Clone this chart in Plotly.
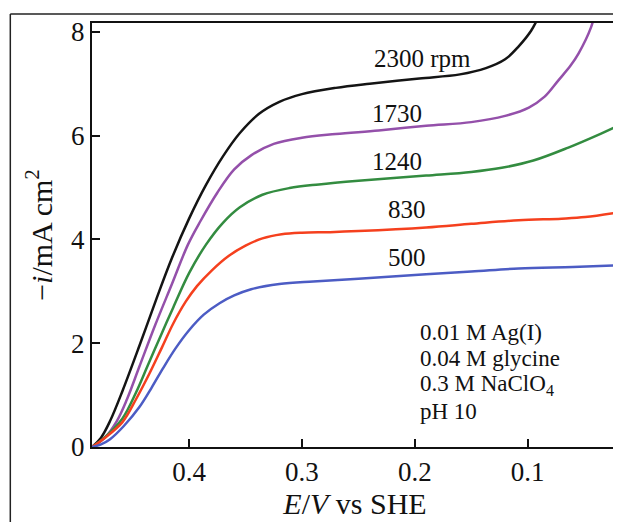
import plotly.graph_objects as go

# Data (E in V vs SHE, -i in mA cm^-2)
E_2300 = [0.486, 0.478, 0.470, 0.459, 0.444, 0.429, 0.415, 0.400, 0.385, 0.370, 0.355, 0.338, 0.320, 0.300, 0.270, 0.240, 0.196, 0.160, 0.137, 0.120, 0.108, 0.097, 0.088]
i_2300 = [0.0, 0.18, 0.50, 1.08, 1.95, 2.85, 3.65, 4.40, 5.05, 5.60, 6.05, 6.42, 6.65, 6.80, 6.92, 7.00, 7.10, 7.18, 7.30, 7.47, 7.72, 8.02, 8.40]

E_1730 = [0.486, 0.475, 0.464, 0.455, 0.444, 0.430, 0.415, 0.401, 0.390, 0.375, 0.360, 0.345, 0.325, 0.300, 0.270, 0.232, 0.190, 0.150, 0.120, 0.099, 0.085, 0.073, 0.062, 0.055, 0.044, 0.040]
i_1730 = [0.0, 0.17, 0.50, 0.92, 1.55, 2.35, 3.15, 3.90, 4.35, 4.90, 5.35, 5.62, 5.84, 5.96, 6.03, 6.10, 6.19, 6.26, 6.38, 6.54, 6.75, 7.06, 7.35, 7.58, 8.08, 8.40]

E_1240 = [0.486, 0.475, 0.459, 0.447, 0.437, 0.425, 0.414, 0.400, 0.385, 0.370, 0.355, 0.335, 0.311, 0.285, 0.250, 0.190, 0.150, 0.123, 0.095, 0.064, 0.035, 0.020]
i_1240 = [0.0, 0.18, 0.55, 1.05, 1.55, 2.15, 2.69, 3.35, 3.90, 4.32, 4.62, 4.86, 4.99, 5.06, 5.13, 5.23, 5.30, 5.38, 5.52, 5.77, 6.04, 6.19]

E_830 = [0.486, 0.475, 0.459, 0.447, 0.435, 0.424, 0.414, 0.403, 0.393, 0.380, 0.365, 0.350, 0.335, 0.318, 0.300, 0.275, 0.250, 0.190, 0.150, 0.108, 0.070, 0.049, 0.020]
i_830 = [0.0, 0.17, 0.48, 0.92, 1.42, 1.92, 2.38, 2.80, 3.10, 3.40, 3.68, 3.88, 4.02, 4.10, 4.13, 4.14, 4.16, 4.23, 4.30, 4.37, 4.40, 4.43, 4.52]

E_500 = [0.486, 0.478, 0.470, 0.458, 0.444, 0.433, 0.423, 0.412, 0.400, 0.387, 0.373, 0.360, 0.345, 0.320, 0.290, 0.250, 0.190, 0.150, 0.108, 0.060, 0.020]
i_500 = [0.0, 0.05, 0.15, 0.40, 0.77, 1.15, 1.52, 1.90, 2.25, 2.55, 2.77, 2.92, 3.04, 3.14, 3.19, 3.24, 3.33, 3.38, 3.44, 3.47, 3.50]

series_names = ["2300 rpm", "1730", "1240", "830", "500"]
series_E = [E_2300, E_1730, E_1240, E_830, E_500]
series_i = [i_2300, i_1730, i_1240, i_830, i_500]
colors = ["#141414", "#9450aa", "#338c40", "#f5401e", "#4c5cc4"]

label_E = [0.193, 0.2155, 0.2155, 0.207, 0.207]
label_i = [7.48, 6.42, 5.50, 4.58, 3.65]

cond_lines = ["0.01 M Ag(I)", "0.04 M glycine", "0.3 M NaClO<sub>4</sub>", "pH 10"]
cond_E = 0.197
cond_i = [2.21, 1.71, 1.19, 0.69]

x_ticks = [0.4, 0.3, 0.2, 0.1]
y_ticks = [0, 2, 4, 6, 8]

FONT = "Liberation Serif"

fig = go.Figure()
for name, xs, ys, c in zip(series_names, series_E, series_i, colors):
    fig.add_trace(go.Scatter(x=xs, y=ys, mode="lines", name=name,
                             line=dict(color=c, width=2.5, shape="spline", smoothing=1.0),
                             showlegend=False))

for name, xe, yi in zip(series_names, label_E, label_i):
    fig.add_annotation(x=xe, y=yi, text=name, showarrow=False,
                       font=dict(family=FONT, size=25, color="#111"),
                       xanchor="center", yanchor="middle")

for txt, yi in zip(cond_lines, cond_i):
    fig.add_annotation(x=cond_E, y=yi, text=txt, showarrow=False,
                       xanchor="left", yanchor="middle", align="left",
                       font=dict(family=FONT, size=23, color="#111"))

# outer frame lines (partially cut off in the reference)
fig.add_shape(type="line", xref="paper", yref="paper", x0=-0.1553, x1=-0.1553, y0=1.0212, y1=-1,
              line=dict(color="#222", width=1.5))
fig.add_shape(type="line", xref="paper", yref="paper", x0=-0.1553, x1=2, y0=1.0212, y1=1.0212,
              line=dict(color="#222", width=1.5))

fig.update_layout(
    width=621, height=522,
    margin=dict(l=84, r=9, t=14, b=83),
    paper_bgcolor="white", plot_bgcolor="white",
    font=dict(family=FONT, size=27, color="#111"),
    xaxis=dict(range=[0.486, 0.02], tickvals=x_ticks, ticktext=[str(v) for v in x_ticks],
               ticks="inside", ticklen=8, tickwidth=2, tickcolor="#111",
               showline=True, linecolor="#111", linewidth=2, mirror=True,
               showgrid=False, zeroline=False,
               title=dict(text="<i>E</i>/<i>V</i> vs SHE", font=dict(size=30), standoff=6)),
    yaxis=dict(range=[0, 8.17], tickvals=y_ticks, ticktext=[str(v) for v in y_ticks],
               ticks="inside", ticklen=8, tickwidth=2, tickcolor="#111",
               showline=True, linecolor="#111", linewidth=2, mirror=True,
               showgrid=False, zeroline=False,
               title=dict(text="−<i>i</i>/mA cm<sup>2</sup>", font=dict(size=30), standoff=10)),
)

fig.write_html("out.html")
